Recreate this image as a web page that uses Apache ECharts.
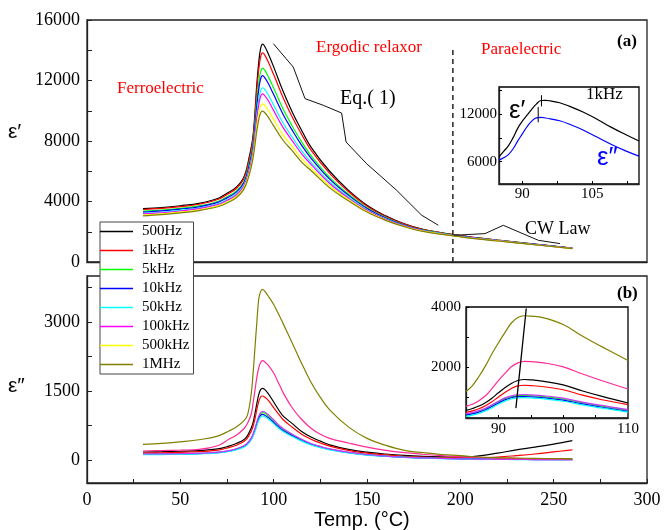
<!DOCTYPE html>
<html><head><meta charset="utf-8">
<script src="https://cdn.jsdelivr.net/npm/echarts@6/dist/echarts.min.js"></script>
<style>html,body{margin:0;padding:0;background:#fff}#c{width:664px;height:530px}</style>
</head><body><div id="c"></div>
<script>
// ---------- DATA ----------
const freqs = ['500Hz','1kHz','5kHz','10kHz','50kHz','100kHz','500kHz','1MHz'];

// Panel (a): real permittivity eps' vs temperature
const tempA = [30,40,50,60,70,75,80,84,87,89,91,92,93,94,95,97,100,105,110,115,120,130,140,150,160,170,180,200,220,240,260];
const epsA_500Hz = [3530,3600,3720,3880,4200,4550,4950,5600,7000,8400,11800,13200,14100,14400,14300,13800,12900,11300,9900,8700,7600,6000,4750,3750,3050,2520,2160,1750,1450,1180,920];
const epsA_1kHz  = [3470,3540,3660,3820,4130,4470,4860,5500,6840,8210,11400,12710,13550,13820,13730,13250,12390,10880,9570,8430,7400,5860,4660,3690,3010,2500,2140,1740,1440,1170,920];
const epsA_5kHz  = [3360,3430,3550,3710,4000,4320,4700,5310,6570,7860,10680,11830,12570,12800,12720,12290,11500,10130,8980,7940,7040,5600,4500,3590,2940,2450,2110,1720,1430,1160,910];
const epsA_10kHz = [3300,3380,3500,3650,3940,4240,4620,5220,6440,7700,10340,11410,12100,12320,12230,11830,11070,9770,8700,7710,6870,5480,4420,3540,2910,2430,2090,1710,1420,1160,910];
const epsA_50kHz = [3220,3290,3410,3570,3840,4130,4500,5080,6220,7430,9790,10730,11340,11520,11440,11070,10370,9190,8240,7340,6590,5290,4300,3460,2860,2400,2070,1690,1410,1150,900];
const epsA_100kHz= [3180,3250,3370,3530,3790,4070,4430,5010,6110,7290,9510,10390,10960,11120,11040,10690,10010,8900,8010,7150,6450,5190,4230,3420,2830,2380,2060,1680,1410,1150,900];
const epsA_500kHz= [3100,3180,3300,3450,3710,3970,4330,4890,5930,7070,9040,9820,10320,10460,10380,10060,9430,8410,7630,6830,6220,5020,4130,3350,2780,2350,2040,1670,1400,1140,890];
const epsA_1MHz  = [3050,3130,3250,3400,3650,3900,4250,4800,5800,6900,8700,9400,9850,9970,9900,9600,9000,8050,7350,6600,6050,4900,4050,3300,2750,2330,2020,1660,1390,1140,890];

// Eq.(1) fit line and CW-law line, boundary
const eqTemp = [99.8,110.5,116.8,126.6,136.4,138.8,149.8,165.9,179.3,188.2];
const eqVal  = [14436,12890,10800,10360,9850,7930,6500,4740,3090,2430];
const cwTemp = [196.4,213.2,223,241.8,253.4];
const cwVal  = [1765,1877,2426,1434,1216];
const boundaryTemp = [196,196];
const boundaryVal  = [0,14200];

// Panel (b): imaginary permittivity eps'' vs temperature
const tempB = [30,40,50,60,70,76,80,84,86,88,89,90,91,92,93,94,95,97,100,103,105,110,115,120,125,130,140,150,160,170,180,190,200,210,220,230,240,250,260];
const epsB_500Hz = [174,180,190,205,240,300,360,440,530,700,820,1015,1230,1420,1530,1558,1540,1450,1260,1070,960,790,620,500,410,330,230,170,130,100,80,68,62,90,150,220,280,345,420];
const epsB_1kHz  = [150,155,165,180,215,270,320,400,480,630,740,900,1100,1270,1370,1391,1375,1300,1140,980,880,710,560,450,370,300,210,150,110,80,62,52,45,50,65,95,130,175,222];
const epsB_5kHz  = [125,128,133,143,165,200,240,300,360,470,555,670,800,920,1000,1030,1020,960,850,730,665,545,440,350,290,235,165,117,85,62,48,38,32,28,26,25,25,27,30];
const epsB_10kHz = [120,123,128,138,158,192,230,290,350,455,540,650,780,895,970,990,980,925,815,700,640,525,425,340,280,228,160,113,82,59,44,33,26,20,15,12,10,8,7];
const epsB_50kHz = [115,118,123,133,152,185,222,280,338,440,520,625,750,860,935,956,945,895,790,680,620,510,410,330,270,220,155,108,78,56,41,30,22,16,12,10,8,7,6];
const epsB_100kHz= [130,133,138,148,170,205,245,310,370,480,570,690,830,950,1030,1060,1050,990,875,750,685,560,450,360,295,240,170,120,85,60,45,35,25,20,15,12,10,8,8];
const epsB_500kHz= [196,205,215,230,310,450,540,680,800,1000,1250,1520,1800,2000,2120,2160,2140,2060,1890,1640,1470,1130,880,690,560,470,370,280,210,160,125,95,70,55,40,32,25,22,20];
const epsB_1MHz  = [341,360,395,440,520,630,720,850,980,1450,1900,2450,3000,3500,3660,3710,3680,3570,3380,3140,2970,2540,2100,1690,1360,1090,720,470,320,210,160,120,95,65,50,42,35,30,25];

// Inset (a): 1kHz eps' and eps''
const tempInA = [85,86,87,88,89,90,91,92,93,94,95,96,98,100,103,106,109,112,115];
const inA_epsR = [6620,7300,8000,9000,10200,11100,11850,12600,13250,13700,13720,13650,13420,13000,12250,11350,10350,9450,8600];
const inA_epsI = [6200,6500,6900,7600,8600,9500,10400,11100,11520,11570,11500,11400,11150,10750,10000,9100,8200,7400,6700];
const inA_markR_T = [94.1,94.1]; const inA_markR_V = [12960,14370];
const inA_markI_T = [93.4,93.4]; const inA_markI_V = [10960,12900];

// Inset (b): eps'' near the peak
const tempInB = [85,86,87,88,89,90,91,92,93,94,95,97,100,103,106,110];
const inB_500Hz = [577,640,720,830,980,1160,1330,1470,1565,1600,1590,1540,1420,1220,1040,822];
const inB_1kHz  = [510,560,630,730,860,1020,1170,1300,1390,1410,1400,1360,1260,1080,930,765];
const inB_5kHz  = [450,490,550,630,740,860,965,1035,1068,1075,1065,1035,955,830,720,585];
const inB_10kHz = [420,460,520,600,705,820,925,995,1030,1035,1025,995,915,790,680,545];
const inB_50kHz = [378,420,480,560,665,780,885,955,990,1000,990,960,880,760,650,520];
const inB_100kHz= [467,510,570,650,760,880,990,1060,1095,1100,1090,1060,980,850,740,600];
const inB_500kHz= [709,780,900,1060,1300,1560,1800,2020,2150,2200,2190,2150,2020,1780,1560,1285];
const inB_1MHz  = [1205,1400,1700,2050,2450,2810,3150,3470,3650,3710,3700,3640,3420,3030,2680,2230];
const inB_trendT = [92.7,94.3];
const inB_trendV = [650,3950];

// ---------- STYLE ----------
const colorsA = ['#000000','#ff0000','#00ff00','#0000ff','#00ffff','#ff00ff','#ffff00','#808000'];
const colorsB = ['#000000','#ff0000','#00ff00','#0000ff','#00ffff','#cc33ff','#ff2a96','#808000'];
const SERIF = 'Liberation Serif';
const AX = '#222';

const seriesA = [epsA_500Hz,epsA_1kHz,epsA_5kHz,epsA_10kHz,epsA_50kHz,epsA_100kHz,epsA_500kHz,epsA_1MHz];
const seriesB = [epsB_500Hz,epsB_1kHz,epsB_5kHz,epsB_10kHz,epsB_50kHz,epsB_100kHz,epsB_500kHz,epsB_1MHz];
const seriesInB = [inB_500Hz,inB_1kHz,inB_5kHz,inB_10kHz,inB_50kHz,inB_100kHz,inB_500kHz,inB_1MHz];

function pairs(xs, ys){ return xs.map((x,i)=>[x, ys[i]]); }
function line(name, xs, ys, color, gi, opts){
  return Object.assign({
    type:'line', name:name, xAxisIndex:gi, yAxisIndex:gi,
    data: pairs(xs, ys), showSymbol:false, symbol:'none',
    smooth:0.4,
    lineStyle:{color:color, width:1.2}, itemStyle:{color:color},
    animation:false, silent:true, z:3
  }, opts||{});
}

const series = [];
freqs.forEach((f,i)=>series.push(line(f, tempA, seriesA[i], colorsA[i], 0)));
series.push(line('eq', eqTemp, eqVal, '#111', 0, {smooth:false, lineStyle:{color:'#111', width:1}}));
series.push(line('cw', cwTemp, cwVal, '#111', 0, {smooth:false, lineStyle:{color:'#111', width:1}}));
series.push(line('bd', boundaryTemp, boundaryVal, '#222', 0, {smooth:false, lineStyle:{color:'#222', width:1.5, type:[5,4]}}));
freqs.forEach((f,i)=>series.push(line(f, tempB, seriesB[i], colorsB[i], 1)));
series.push(line('inR', tempInA, inA_epsR, '#000', 2));
series.push(line('inI', tempInA, inA_epsI, '#0000ff', 2));
series.push(line('mR', inA_markR_T, inA_markR_V, '#000', 2, {smooth:false, lineStyle:{color:'#000', width:1}}));
series.push(line('mI', inA_markI_T, inA_markI_V, '#000', 2, {smooth:false, lineStyle:{color:'#000', width:1}}));
freqs.forEach((f,i)=>series.push(line(f, tempInB, seriesInB[i], colorsB[i], 3)));
series.push(line('tr', inB_trendT, inB_trendV, '#000', 3, {smooth:false, lineStyle:{color:'#000', width:1.3}}));

const plain = v => String(v);
function axisBase(o){
  return Object.assign({
    type:'value', splitLine:{show:false},
    axisLine:{show:true, onZero:false, lineStyle:{color:AX, width:1.3}},
    axisTick:{show:true, inside:true, length:5, lineStyle:{color:AX, width:1}},
    axisLabel:{color:'#000', fontFamily:SERIF, fontSize:18, margin:7, formatter:plain}
  }, o);
}
function everyOther(step){ return v => (Math.abs(v % step) < 1e-6 ? String(v) : ''); }
function lbl(size, margin, extra){
  return Object.assign({color:'#000', fontFamily:SERIF, fontSize:size, margin:margin, formatter:plain, showMaxLabel:true, showMinLabel:true}, extra||{});
}

const option = {
  backgroundColor:'#fff',
  animation:false,
  textStyle:{fontFamily:SERIF},
  grid:[
    {left:87, top:20, width:560, height:242, show:true, borderColor:AX, borderWidth:1.3, backgroundColor:'transparent'},
    {left:87, top:276, width:560, height:207, show:true, borderColor:AX, borderWidth:1.3, backgroundColor:'transparent'},
    {left:499, top:87, width:140, height:97, show:true, borderColor:'#000', borderWidth:1.3, backgroundColor:'#fff'},
    {left:466, top:307, width:162, height:111, show:true, borderColor:'#000', borderWidth:1.3, backgroundColor:'#fff'}
  ],
  xAxis:[
    axisBase({gridIndex:0, min:0, max:300, interval:25, axisLabel:{show:false}, axisTick:{show:false}}),
    axisBase({gridIndex:1, min:0, max:300, interval:25,
      axisTick:{show:true, inside:true, length:4, lineStyle:{color:AX}},
      axisLabel:lbl(18, 8, {formatter:everyOther(50)})}),
    axisBase({gridIndex:2, min:85, max:115,
      axisTick:{show:true, inside:true, length:3, customValues:[90,97.5,105,112.5], lineStyle:{color:'#000'}},
      axisLabel:lbl(15, 3, {customValues:[90,105]})}),
    axisBase({gridIndex:3, min:85, max:110,
      axisTick:{show:true, inside:true, length:3, customValues:[90,95,100,105], lineStyle:{color:'#000'}},
      axisLabel:lbl(15, 4, {customValues:[90,100,110]})})
  ],
  yAxis:[
    axisBase({gridIndex:0, min:0, max:16000, interval:2000,
      axisLabel:lbl(18, 7, {formatter:everyOther(4000)})}),
    axisBase({gridIndex:1, min:-500, max:4000,
      axisTick:{show:true, inside:true, length:5, customValues:[0,750,1500,2250,3000,3750], lineStyle:{color:AX}},
      axisLabel:lbl(18, 7, {customValues:[0,1500,3000]})}),
    axisBase({gridIndex:2, min:3200, max:15400,
      axisTick:{show:true, inside:true, length:3, customValues:[6000,9000,12000,15000], lineStyle:{color:'#000'}},
      axisLabel:lbl(15, 2, {customValues:[6000,12000]})}),
    axisBase({gridIndex:3, min:325, max:4000,
      axisTick:{show:true, inside:true, length:3, customValues:[1000,2000,3000,4000], lineStyle:{color:'#000'}},
      axisLabel:lbl(15, 5, {customValues:[2000,4000]})})
  ],
  legend:{
    data:freqs, orient:'vertical', left:100, top:222,
    icon:'rect', itemWidth:33, itemHeight:1.5, itemGap:4,
    padding:[2,4,2,0],
    backgroundColor:'#fff', borderColor:'#444', borderWidth:1,
    selectedMode:false,
    textStyle:{fontFamily:SERIF, fontSize:15, color:'#000', lineHeight:14, padding:[0,0,0,4]},
    z:10
  },
  graphic:[
    {type:'text', left:117, top:80, style:{text:'Ferroelectric', fill:'#ff0000', font:'17px "Liberation Serif"'}},
    {type:'text', left:316, top:39, style:{text:'Ergodic relaxor', fill:'#ff0000', font:'17px "Liberation Serif"'}},
    {type:'text', left:481, top:41, style:{text:'Paraelectric', fill:'#ff0000', font:'17px "Liberation Serif"'}},
    {type:'text', left:340, top:89, style:{text:'Eq.( 1)', fill:'#000', font:'20px "Liberation Serif"'}},
    {type:'text', left:525, top:220, style:{text:'CW Law', fill:'#000', font:'18px "Liberation Serif"'}},
    {type:'text', left:617, top:33, style:{text:'(a)', fill:'#000', font:'bold 17px "Liberation Serif"'}},
    {type:'text', left:617, top:285, style:{text:'(b)', fill:'#000', font:'bold 17px "Liberation Serif"'}},
    {type:'text', left:586, top:86, z:20, style:{text:'1kHz', fill:'#000', font:'17px "Liberation Serif"'}},
    {type:'text', left:509, top:98, z:20, style:{text:'\u03b5\u2032', fill:'#000', font:'26px "Liberation Sans"'}},
    {type:'text', left:597, top:145, z:20, style:{text:'\u03b5\u2033', fill:'#0000ff', font:'26px "Liberation Sans"'}},
    {type:'text', left:8, top:122, style:{text:'\u03b5\u2032', fill:'#000', font:'21px "Liberation Sans"'}},
    {type:'text', left:8, top:376, style:{text:'\u03b5\u2033', fill:'#000', font:'21px "Liberation Sans"'}},
    {type:'text', left:314, top:510, style:{text:'Temp. (\u00b0C)', fill:'#000', font:'20px "Liberation Sans"'}}
  ],
  series: series
};

const chart = echarts.init(document.getElementById('c'), null, {renderer:'canvas'});
chart.setOption(option);
</script>
</body></html>
